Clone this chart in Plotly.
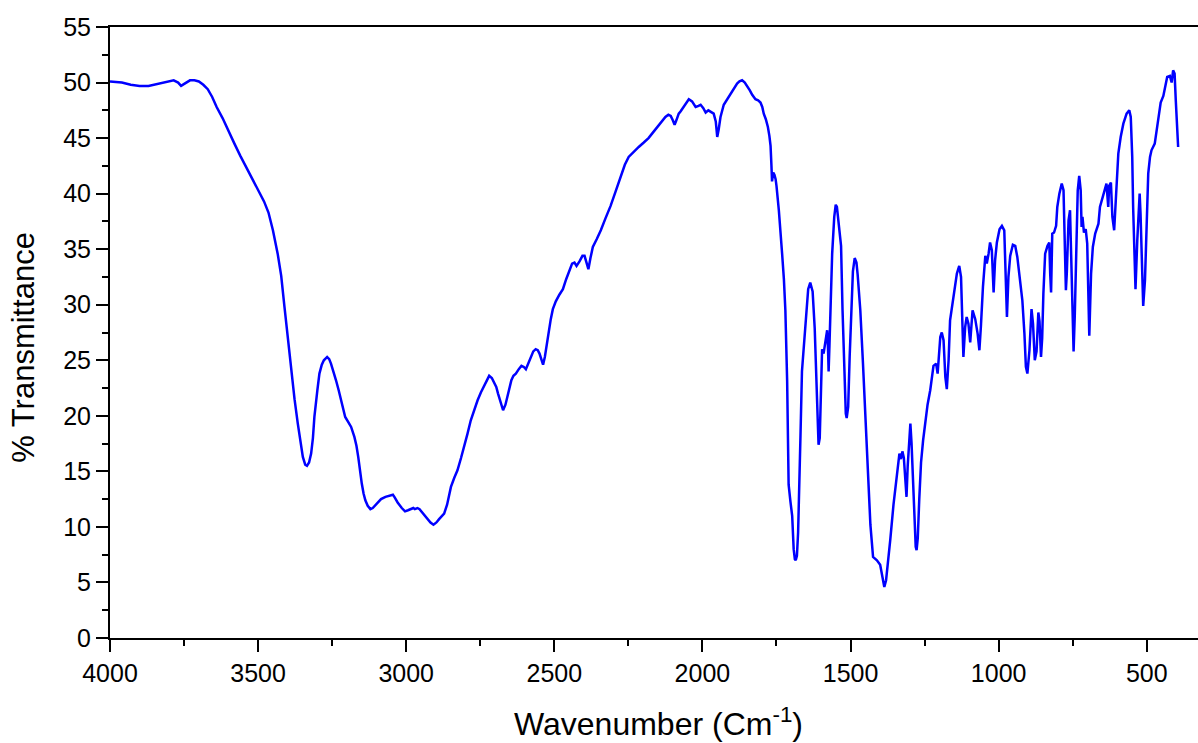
import plotly.graph_objects as go

# FTIR spectrum: wavenumber (cm^-1) and % transmittance
wavenumber = [
    4000, 3960, 3930, 3900, 3870, 3840, 3810, 3785, 3770, 3760, 3748, 3730, 3715, 3700,
    3685, 3670, 3655, 3640, 3620, 3600, 3580, 3560, 3540, 3520, 3500, 3480, 3465, 3450,
    3434, 3422, 3411, 3400, 3389, 3377, 3366, 3357, 3349, 3341, 3335, 3328, 3321, 3315,
    3310, 3300, 3293, 3285, 3278, 3267, 3260, 3254, 3245, 3237, 3228, 3220, 3212, 3206,
    3195, 3186, 3175, 3168, 3162, 3156, 3150, 3144, 3138, 3130, 3121, 3113, 3106, 3095,
    3085, 3070, 3054, 3045, 3040, 3029, 3015, 3004, 2994, 2984, 2976, 2971, 2962, 2955,
    2945, 2935, 2928, 2918, 2908, 2898, 2889, 2880, 2872, 2862, 2849, 2838, 2827, 2815,
    2804, 2793, 2782, 2770, 2759, 2748, 2737, 2728, 2720, 2711, 2703, 2696, 2690, 2681,
    2673, 2665, 2658, 2651, 2645, 2638, 2630, 2620, 2611, 2603, 2596, 2588, 2580, 2571,
    2563, 2556, 2550, 2544, 2538, 2532, 2527, 2520, 2512, 2505, 2495, 2483, 2471, 2460,
    2450, 2440, 2432, 2425, 2415, 2405, 2398, 2392, 2385, 2378, 2370, 2357, 2343, 2327,
    2310, 2293, 2276, 2262, 2249, 2232, 2215, 2198, 2182, 2170, 2158, 2140, 2125, 2115,
    2107, 2100, 2094, 2088, 2080, 2074, 2060, 2046, 2035, 2023, 2013, 2006, 1997, 1989,
    1980, 1973, 1962, 1955, 1950, 1945, 1939, 1928, 1916, 1905, 1894, 1883, 1875, 1866,
    1857, 1849, 1840, 1832, 1821, 1812, 1804, 1798, 1793, 1786, 1779, 1774, 1770, 1767,
    1765, 1761, 1757, 1753, 1750, 1742, 1736, 1731, 1725, 1720, 1714, 1712, 1709, 1703,
    1697, 1692, 1688, 1685, 1681, 1677, 1673, 1669, 1664, 1656, 1649, 1643, 1636, 1628,
    1621, 1615, 1611, 1608, 1604, 1600, 1596, 1591, 1585, 1579, 1576, 1574, 1571, 1568,
    1562, 1555, 1550, 1546, 1540, 1532, 1527, 1521, 1516, 1513, 1508, 1503, 1497, 1492,
    1486, 1480, 1476, 1467, 1458, 1450, 1442, 1433, 1424, 1411, 1400, 1392, 1386, 1380,
    1372, 1366, 1355, 1345, 1339, 1335, 1330, 1325, 1320, 1315, 1311, 1307, 1301, 1298,
    1294, 1289, 1284, 1280, 1277, 1273, 1268, 1262, 1255, 1247, 1240, 1231, 1220, 1211,
    1206, 1197, 1192, 1186, 1180, 1175, 1169, 1164, 1152, 1141, 1133, 1127, 1122, 1119,
    1113, 1108, 1102, 1096, 1088, 1079, 1071, 1065, 1060, 1053, 1045, 1040, 1034, 1029,
    1023, 1017, 1012, 1006, 997, 989, 981, 977, 972, 967, 961, 952, 944, 937,
    928, 920, 913, 908, 903, 896, 889, 884, 878, 872, 866, 862, 857, 853,
    849, 843, 835, 829, 826, 823, 819, 813, 806, 802, 795, 787, 781, 778,
    773, 770, 764, 759, 756, 750, 747, 743, 739, 733, 728, 723, 720, 717,
    712, 706, 701, 697, 694, 688, 682, 674, 663, 658, 649, 641, 636, 630,
    627, 621, 616, 610, 604, 596, 588, 579, 568, 559, 554, 549, 546, 542,
    538, 532, 526, 524, 521, 516, 512, 506, 500, 495, 489, 484, 473, 467,
    461, 453, 444, 439, 431, 422, 416, 411, 406, 402, 397, 394,
]
transmittance = [
    50.1, 50.0, 49.8, 49.7, 49.7, 49.9, 50.1, 50.2, 50.0, 49.7, 49.9, 50.2, 50.2, 50.1,
    49.8, 49.4, 48.7, 47.8, 46.8, 45.6, 44.5, 43.4, 42.4, 41.4, 40.4, 39.3, 38.3, 36.7,
    34.6, 32.6, 29.8, 27.0, 24.1, 21.5, 19.3, 17.6, 16.3, 15.6, 15.5, 15.8, 16.6, 18.0,
    19.9, 22.3, 23.8, 24.6, 25.0, 25.3, 25.1, 24.7, 24.0, 23.2, 22.3, 21.4, 20.6, 19.9,
    19.4, 19.0, 18.1, 17.3, 16.3, 15.0, 13.9, 13.0, 12.4, 11.9, 11.6, 11.7, 11.9, 12.2,
    12.5, 12.7, 12.8, 12.9, 12.7, 12.2, 11.7, 11.4, 11.5, 11.6, 11.7, 11.6, 11.7, 11.6,
    11.3, 11.0, 10.7, 10.4, 10.2, 10.4, 10.7, 11.0, 11.2, 12.0, 13.6, 14.4, 15.1, 16.2,
    17.2, 18.4, 19.6, 20.6, 21.4, 22.1, 22.7, 23.3, 23.6, 23.4, 23.0, 22.6, 22.0, 21.2,
    20.5, 21.0, 21.7, 22.5, 23.2, 23.6, 23.8, 24.2, 24.5, 24.4, 24.2, 24.7, 25.3, 25.8,
    26.0, 25.9, 25.6, 25.0, 24.6, 25.3, 26.2, 27.5, 28.7, 29.6, 30.3, 30.9, 31.4, 32.3,
    33.1, 33.7, 33.8, 33.5, 33.9, 34.4, 34.4, 33.8, 33.2, 34.2, 35.2, 35.9, 36.7, 37.8,
    38.9, 40.2, 41.6, 42.6, 43.3, 43.8, 44.2, 44.6, 45.0, 45.4, 45.8, 46.5, 46.9, 47.1,
    47.0, 46.6, 46.2, 46.6, 47.2, 47.4, 48.0, 48.5, 48.3, 47.8, 47.9, 48.0, 47.7, 47.3,
    47.5, 47.4, 47.2, 46.5, 45.1, 45.8, 46.9, 48.0, 48.5, 48.9, 49.4, 49.9, 50.1, 50.2,
    50.0, 49.7, 49.3, 48.9, 48.5, 48.4, 48.2, 47.8, 47.2, 46.7, 46.0, 45.2, 44.3, 42.5,
    41.1, 41.9, 41.7, 41.3, 40.7, 38.5, 36.7, 34.6, 32.3, 29.5, 23.1, 19.0, 13.8, 12.3,
    11.0, 8.0, 7.1, 7.0, 7.4, 9.5, 13.0, 18.2, 24.0, 26.6, 29.5, 31.4, 32.0, 31.2,
    27.9, 23.1, 18.5, 17.4, 18.0, 23.1, 26.0, 25.6, 26.6, 27.7, 26.0, 24.0, 26.5, 29.5,
    34.6, 37.9, 39.0, 38.8, 37.3, 35.3, 29.5, 23.1, 20.2, 19.8, 20.8, 25.3, 30.1, 33.0,
    34.2, 33.8, 32.7, 29.5, 24.7, 19.9, 15.0, 10.2, 7.3, 7.0, 6.6, 5.6, 4.6, 5.2,
    7.0, 8.8, 12.0, 14.5, 16.0, 16.6, 16.1, 16.8, 16.2, 13.8, 12.7, 15.5, 19.0, 19.3,
    17.5, 13.5, 10.0, 8.2, 7.9, 9.0, 12.5, 15.8, 17.8, 19.7, 21.0, 22.3, 24.5, 24.7,
    23.8, 27.1, 27.5, 26.8, 23.5, 22.4, 25.0, 28.6, 31.0, 32.8, 33.5, 32.5, 28.0, 25.3,
    28.0, 28.9, 28.3, 26.6, 29.5, 28.7, 27.4, 25.9, 28.0, 31.6, 34.4, 33.7, 34.6, 35.6,
    34.9, 31.1, 34.0, 35.6, 36.8, 37.1, 36.7, 33.4, 28.9, 32.5, 34.4, 35.4, 35.3, 34.3,
    32.5, 30.4, 27.4, 24.4, 23.8, 25.9, 29.6, 28.3, 25.0, 25.8, 29.3, 28.5, 25.3, 27.0,
    31.0, 34.6, 35.3, 35.6, 32.8, 31.1, 36.4, 36.5, 37.1, 38.8, 40.0, 40.9, 40.3, 37.0,
    31.3, 32.8, 37.6, 38.5, 35.8, 29.8, 25.8, 29.0, 32.8, 40.3, 41.6, 40.3, 37.0, 37.9,
    36.5, 36.8, 35.5, 31.3, 27.2, 32.8, 35.2, 36.4, 37.3, 38.8, 39.7, 40.6, 40.9, 38.8,
    40.7, 41.0, 37.9, 36.7, 40.3, 43.6, 45.1, 46.3, 47.2, 47.5, 46.9, 43.3, 38.8, 34.3,
    31.4, 35.8, 39.7, 40.0, 38.2, 34.3, 29.9, 32.2, 38.2, 41.8, 43.3, 43.9, 44.5, 45.7,
    46.9, 48.2, 48.8, 49.6, 50.5, 50.6, 50.0, 51.1, 50.8, 48.4, 44.8, 44.2,
]

x_range = [4000, 327]
y_range = [0, 55]
x_title = "Wavenumber (Cm<sup>-1</sup>)"
y_title = "% Transmittance"

FONT = "Arial, Liberation Sans, sans-serif"

fig = go.Figure()
fig.add_trace(go.Scatter(
    x=wavenumber, y=transmittance, mode="lines",
    line=dict(color="#0000FF", width=2.5),
    showlegend=False,
))

axis_common = dict(
    showline=True, linecolor="black", linewidth=2,
    showgrid=False, zeroline=False,
    ticks="outside", ticklen=12, tickwidth=2, tickcolor="black",
    tickfont=dict(family=FONT, size=25, color="black"),
)

fig.update_xaxes(
    range=x_range, dtick=500, tick0=0, mirror=True,
    minor=dict(dtick=250, tick0=0, ticks="outside", ticklen=6, tickwidth=2,
               tickcolor="black", showgrid=False),
    **axis_common,
)
fig.update_yaxes(
    range=y_range, dtick=5, tick0=0,
    minor=dict(dtick=2.5, tick0=0, ticks="outside", ticklen=6, tickwidth=2,
               tickcolor="black", showgrid=False),
    **axis_common,
)

fig.add_annotation(
    text=x_title, xref="paper", yref="paper", x=0.504, y=-0.138,
    xanchor="center", yanchor="middle", showarrow=False,
    font=dict(family=FONT, size=32, color="black"),
)
fig.add_annotation(
    text=y_title, xref="paper", yref="paper", x=-0.079, y=0.475,
    xanchor="center", yanchor="middle", showarrow=False, textangle=-90,
    font=dict(family=FONT, size=31, color="black"),
)

fig.update_layout(
    width=1198, height=743,
    margin=dict(l=110, r=0, t=27, b=105),
    plot_bgcolor="white", paper_bgcolor="white",
)

fig.write_html("out.html")
